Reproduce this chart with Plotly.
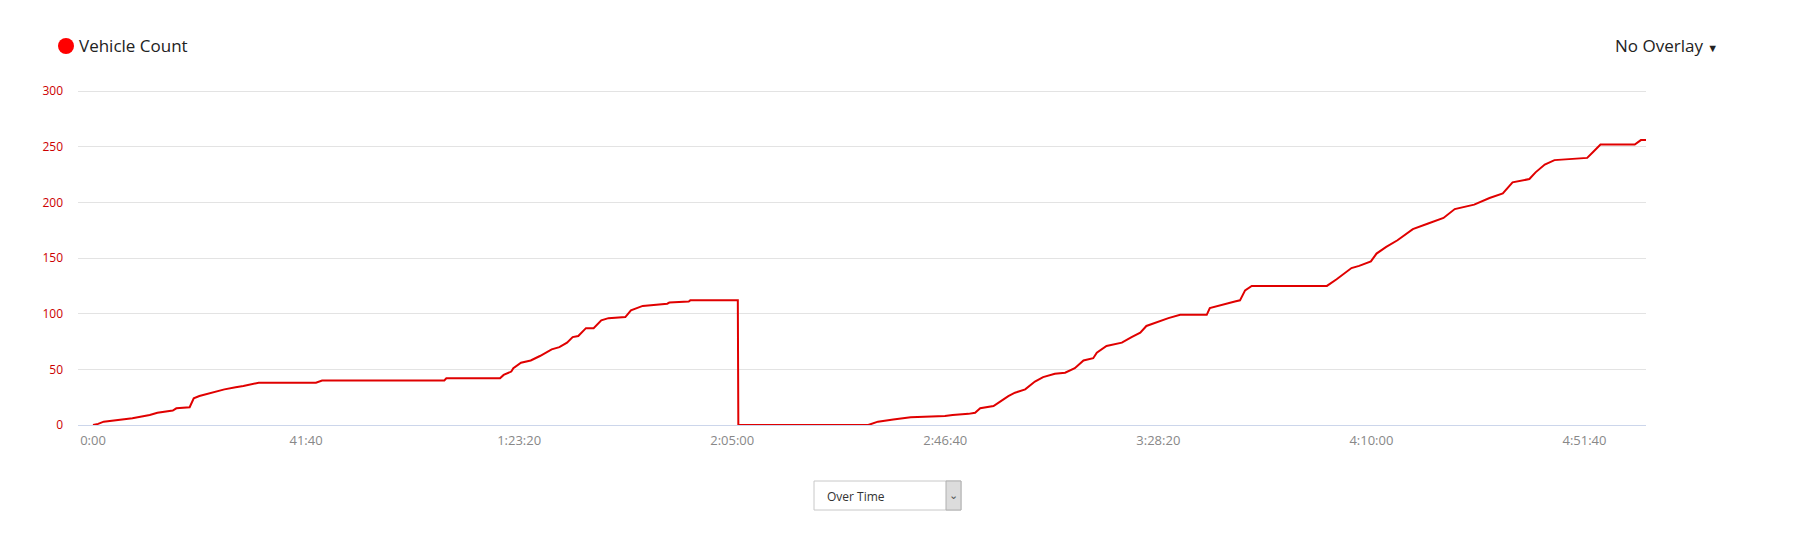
"""
Vehicle count over time (cumulative)
"""
import plotly.graph_objects as go

# elapsed time in minutes
t_min = [0, 1.0, 2.1, 5.8, 7.7, 11.1, 12.6, 15.6, 16.3, 18.9, 19.7, 20.8, 22.3, 23.8,
         25.7, 27.9, 29.4, 32.4, 43.6, 44.8, 68.7, 69.1, 79.6, 80.3, 81.8, 82.2, 83.7,
         85.6, 87.4, 89.7, 91.2, 92.7, 93.8, 94.9, 96.4, 97.9, 99.4, 100.8, 104.1,
         105.2, 107.5, 112.3, 112.7, 116.5, 116.8, 126.1, 126.2, 151.6, 153.5, 156.5,
         159.9, 166.6, 168.1, 171.2, 172.5, 173.5, 176.1, 177.4, 179.0, 180.3, 182.3,
         184.2, 185.8, 188.1, 190.1, 192.0, 193.7, 195.6, 196.3, 198.2, 201.2, 203.1,
         204.8, 206.0, 208.3, 210.3, 212.6, 217.8, 218.4, 221.4, 223.3, 224.3, 225.3,
         226.6, 241.3, 243.2, 244.6, 246.1, 247.6, 249.9, 251.0, 252.9, 255.1, 258.1,
         261.1, 264.1, 266.3, 270.1, 273.1, 275.7, 277.6, 280.9, 282.1, 283.9, 285.8,
         292.2, 293.3, 294.8, 301.5, 302.7, 303.7]
vehicles = [0, 1, 3, 5, 6, 9, 11, 13, 15, 16, 24, 26, 28, 30,
            32, 34, 35, 38, 38, 40, 40, 42, 42, 45, 48, 51, 56,
            58, 62, 68, 70, 74, 79, 80, 87, 87, 94, 96, 97,
            103, 107, 109, 110, 111, 112, 112, 0, 0, 3, 5,
            7, 8, 9, 10, 11, 15, 17, 21, 26, 29, 32,
            39, 43, 46, 47, 51, 58, 60, 65, 71, 74, 79,
            83, 89, 93, 96, 99, 99, 105, 109, 111, 112, 121,
            125, 125, 131, 136, 141, 143, 147, 154, 160, 166, 176,
            181, 186, 194, 198, 204, 208, 218, 221, 227, 234, 238,
            240, 245, 252, 252, 256, 256]

tick_seconds = [0, 2500, 5000, 7500, 10000, 12500, 15000, 17500]
tick_labels = ["0:00", "41:40", "1:23:20", "2:05:00", "2:46:40", "3:28:20", "4:10:00", "4:51:40"]
y_ticks = [0, 50, 100, 150, 200, 250, 300]

RED = "#e00000"
FONT = "Open Sans"


def px_x(p):
    # page pixel -> paper x (plot area spans 70..1638)
    return (p - 70) / 1568


def px_y(p):
    # page pixel -> paper y (plot area spans 82..417)
    return (417 - p) / 335


fig = go.Figure()
fig.add_trace(go.Scatter(
    x=t_min, y=vehicles, mode="lines",
    line=dict(color=RED, width=2), name="Vehicle Count", showlegend=False,
))

fig.update_layout(
    width=1794, height=541,
    margin=dict(l=70, r=156, t=82, b=124),
    paper_bgcolor="white", plot_bgcolor="white",
    font=dict(family=FONT, size=13, color="#333"),
    xaxis=dict(
        range=[-176 / 60, 303.7],
        tickvals=[s / 60 for s in tick_seconds], ticktext=tick_labels,
        showgrid=False, zeroline=False, showline=False,
        tickfont=dict(family=FONT, size=13, color="#888"),
        ticks="", ticklabelstandoff=6,
    ),
    yaxis=dict(
        range=[0, 301], tickvals=y_ticks,
        showgrid=True, gridcolor="#e3e3e3", gridwidth=1,
        zeroline=True, zerolinecolor="#ccd6eb", zerolinewidth=1,
        showline=False, ticks="",
        tickfont=dict(family=FONT, size=12, color="#cc0000"),
        ticklabelstandoff=14,
    ),
    hovermode=False,
)

# legend-like label
fig.add_shape(type="circle", xref="paper", yref="paper",
              xsizemode="pixel", ysizemode="pixel",
              xanchor=px_x(58), yanchor=px_y(38),
              x0=-8, x1=8, y0=-8, y1=8,
              fillcolor="#ff0000", line=dict(width=0))
fig.add_annotation(
    xref="paper", yref="paper", x=px_x(69), y=px_y(38),
    xanchor="left", yanchor="middle", showarrow=False,
    text="Vehicle Count",
    font=dict(family=FONT, size=17, color="#222"),
)
# overlay menu text
fig.add_annotation(
    xref="paper", yref="paper", x=px_x(1605), y=px_y(38),
    xanchor="left", yanchor="middle", showarrow=False,
    text='No Overlay <span style="font-size:11px">▼</span>',
    font=dict(family=FONT, size=17, color="#222"),
)

# "Over Time" select box under the chart
fig.add_shape(type="rect", xref="paper", yref="paper",
              x0=px_x(806), x1=px_x(953), y0=px_y(502), y1=px_y(473),
              line=dict(color="#c8c8c8", width=1), fillcolor="white")
fig.add_shape(type="rect", xref="paper", yref="paper",
              x0=px_x(938), x1=px_x(953), y0=px_y(502), y1=px_y(473),
              line=dict(color="#b0b0b0", width=1), fillcolor="#dcdcdc")
fig.add_annotation(
    xref="paper", yref="paper", x=px_x(817), y=px_y(488),
    xanchor="left", yanchor="middle", showarrow=False,
    text="Over Time", font=dict(family=FONT, size=12, color="#333"),
)
fig.add_annotation(
    xref="paper", yref="paper", x=px_x(945.5), y=px_y(487),
    xanchor="center", yanchor="middle", showarrow=False,
    text="⌄", font=dict(family="DejaVu Sans", size=11, color="#555"),
)

fig.write_html("out.html")
